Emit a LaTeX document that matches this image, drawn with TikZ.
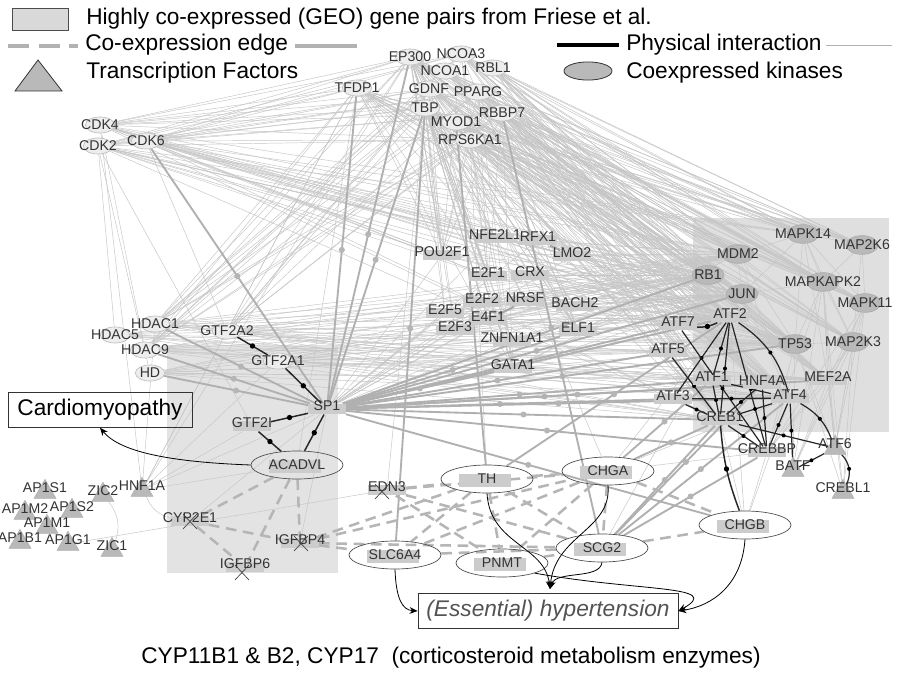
\documentclass[tikz,border=0pt]{standalone}
\usepackage{fontspec}
\setmainfont{Liberation Sans}
\usetikzlibrary{shapes.geometric,arrows.meta}
\pgfdeclarelayer{boxes}
\pgfdeclarelayer{edges}
\pgfsetlayers{boxes,edges,main}
\newcommand\nfont{\fontsize{10.6}{11}\selectfont}
\newcommand\bfont{\fontsize{17}{20}\selectfont}
\tikzset{
 lab/.style={font=\nfont, text=black!80, inner sep=0pt},
 lelllab/.style={lab},
 kinlab/.style={lab},
 rnodelab/.style={lab, yshift=2.5pt},
 tnodelab/.style={lab, yshift=3pt},
 lell/.style={ellipse, fill=gray!14, draw=gray!50, line width=0.5pt, minimum width=22pt, minimum height=12pt, inner sep=0pt},
 kin/.style={ellipse, fill=gray!55, draw=gray!65, line width=0.5pt, minimum width=24pt, minimum height=14pt, inner sep=0pt},
 rnode/.style={rectangle, fill=gray!40, minimum width=28pt, minimum height=8pt, inner sep=0pt},
 tnode/.style={regular polygon, regular polygon sides=3, fill=gray!55, draw=gray!62, minimum size=19pt, inner sep=0pt},
 hell/.style={ellipse, draw=black!70, line width=0.5pt, minimum width=69pt, minimum height=21pt, inner sep=0pt, font=\nfont, text=black!80,
   path picture={\fill[gray!40] ([xshift=-21pt,yshift=-6pt]path picture bounding box.center) rectangle ([xshift=18pt,yshift=4pt]path picture bounding box.center);}},
 thn/.style={draw=gray!45, line width=0.35pt},
 thk/.style={draw=gray!62, line width=1.4pt},
 phy/.style={draw=black!85, line width=1.1pt},
 cox/.style={draw=gray!58, line width=1.9pt, dash pattern=on 8pt off 5pt},
 dot/.style={circle, fill=gray!58, inner sep=0pt, minimum size=4.5pt},
 bdot/.style={circle, fill=black, inner sep=0pt, minimum size=4pt},
 arr/.style={draw=black, line width=0.6pt, -{Stealth[length=6pt,width=5pt]}},
 btxt/.style={font=\bfont, inner sep=0pt, anchor=west},
 xmk/.style={draw=black!75, line width=0.5pt},
}
\newcommand\mkn[4]{\node[#1, label={[#1lab]center:#4}] (#2) at (#3) {};}
\begin{document}
\begin{tikzpicture}[x=0.75pt,y=-0.75pt]
\useasboundingbox (0,0) rectangle (897,674);
\begin{pgfonlayer}{boxes}
\fill[white] (0,0) rectangle (897,674);
\fill[gray!25] (693,218) rectangle (889,432);
\fill[gray!22] (167,345) rectangle (338,573);
\end{pgfonlayer}

% legend
\filldraw[fill=gray!30, draw=gray!60!black, line width=0.6pt] (12,8) rectangle (68,30);
\node[btxt] (lg1) at (86,19) {Highly co-expressed (GEO) gene pairs from Friese et al.};
\draw[gray!60, line width=2.6pt, dash pattern=on 16pt off 7pt] (8,46) -- (78,46);
\node[btxt] (lg2) at (85,45) {Co-expression edge};
\draw[gray!60, line width=2.6pt] (295,46) -- (357,46);
\filldraw[fill=gray!55, draw=gray!40!black, line width=0.6pt] (15,91) -- (62,91) -- (38,60) -- cycle;
\node[btxt] (lg3) at (86,73) {Transcription Factors};
\draw[black, line width=2.4pt] (557,45) -- (619,45);
\node[btxt] (lg4) at (626,45) {Physical interaction};
\draw[gray!60, line width=0.5pt] (826,45) -- (892,45);
\filldraw[fill=gray!55, draw=gray!40!black, line width=0.6pt] (588,71) ellipse [x radius=18pt, y radius=6.8pt];
\node[btxt] (lg5) at (626,73) {Coexpressed kinases};

% top nodes
\mkn{lell}{EP300}{410,57}{EP300}
\mkn{lell}{NCOA3}{461,54}{NCOA3}
\mkn{lell}{NCOA1}{445,71}{NCOA1}
\mkn{lell}{RBL1}{493,68}{RBL1}
\mkn{lell}{TFDP1}{357,88}{TFDP1}
\mkn{lell}{GDNF}{429,89}{GDNF}
\mkn{lell}{PPARG}{478,92}{PPARG}
\mkn{lell}{TBP}{425,108}{TBP}
\mkn{lell}{MYOD1}{456,122}{MYOD1}
\mkn{lell}{RBBP7}{502,113}{RBBP7}
\mkn{lell}{RPS6KA1}{470,140}{RPS6KA1}
\mkn{lell}{CDK4}{100,125}{CDK4}
\mkn{lell}{CDK2}{98,146}{CDK2}
\mkn{lell}{CDK6}{146,141}{CDK6}
\mkn{lell}{HDAC1}{155,324}{HDAC1}
\mkn{lell}{HDAC5}{115,335}{HDAC5}
\mkn{lell}{HDAC9}{145,350}{HDAC9}
\mkn{lell}{HD}{150,373}{HD}
\mkn{lell}{GTF2A2}{227,331}{GTF2A2}
\mkn{lell}{GTF2A1}{278,361}{GTF2A1}
% middle
\mkn{rnode}{NFE2L1}{495,238}{NFE2L1}
\mkn{rnode}{RFX1}{538,240}{RFX1}
\mkn{rnode}{POU2F1}{442,255}{POU2F1}
\mkn{rnode}{LMO2}{572,256}{LMO2}
\mkn{rnode}{E2F1}{488,276}{E2F1}
\mkn{rnode}{CRX}{530,275}{CRX}
\mkn{rnode}{E2F2}{482,302}{E2F2}
\mkn{rnode}{NRSF}{525,301}{NRSF}
\mkn{rnode}{BACH2}{575,306}{BACH2}
\mkn{rnode}{E2F5}{445,313}{E2F5}
\mkn{rnode}{E4F1}{488,320}{E4F1}
\mkn{rnode}{E2F3}{455,330}{E2F3}
\mkn{rnode}{ELF1}{578,331}{ELF1}
\mkn{rnode}{ZNFN1A1}{512,341}{ZNFN1A1}
\mkn{rnode}{GATA1}{513,368}{GATA1}
\mkn{rnode}{SP1}{327,409}{SP1}
\mkn{rnode}{GTF2I}{252,426}{GTF2I}
% kinases
\mkn{kin}{MAPK14}{803,234}{MAPK14}
\mkn{kin}{MAP2K6}{862,245}{MAP2K6}
\mkn{kin}{MDM2}{738,254}{MDM2}
\mkn{kin}{RB1}{708,275}{RB1}
\mkn{kin}{MAPKAPK2}{823,282}{MAPKAPK2}
\mkn{kin}{JUN}{742,294}{JUN}
\mkn{kin}{MAPK11}{865,303}{MAPK11}
\mkn{kin}{TP53}{795,344}{TP53}
\mkn{kin}{MAP2K3}{853,342}{MAP2K3}
% right TFs
\mkn{rnode}{ATF2}{730,317}{ATF2}
\mkn{rnode}{ATF7}{678,325}{ATF7}
\mkn{rnode}{ATF5}{668,352}{ATF5}
\mkn{rnode}{ATF1}{712,380}{ATF1}
\mkn{rnode}{HNF4A}{762,384}{HNF4A}
\mkn{rnode}{MEF2A}{828,380}{MEF2A}
\mkn{rnode}{ATF3}{673,399}{ATF3}
\mkn{rnode}{ATF4}{790,398}{ATF4}
\mkn{rnode}{CREB1}{720,420}{CREB1}
\mkn{rnode}{CREBBP}{767,452}{CREBBP}
\mkn{tnode}{BATF}{793,470}{BATF}
\mkn{tnode}{ATF6}{835,448}{ATF6}
\mkn{tnode}{CREBL1}{843,492}{CREBL1}
% bottom left
\mkn{tnode}{AP1S1}{45,492}{AP1S1}
\mkn{tnode}{ZIC2}{103,495}{ZIC2}
\mkn{tnode}{HNF1A}{142,490}{HNF1A}
\mkn{tnode}{AP1M2}{25,513}{AP1M2}
\mkn{tnode}{AP1S2}{72,511}{AP1S2}
\mkn{tnode}{AP1M1}{47,527}{AP1M1}
\mkn{tnode}{AP1B1}{20,542}{AP1B1}
\mkn{tnode}{AP1G1}{68,544}{AP1G1}
\mkn{tnode}{ZIC1}{112,550}{ZIC1}
\mkn{rnode}{CYP2E1}{190,521}{CYP2E1}
\mkn{rnode}{IGFBP4}{300,543}{IGFBP4}
\mkn{rnode}{IGFBP6}{245,567}{IGFBP6}
\mkn{rnode}{EDN3}{387,490}{EDN3}
% highlighted genes
\node[hell] (ACADVL) at (297,465) {ACADVL};
\node[hell] (TH) at (487,479) {TH\hspace{12pt}};
\node[hell] (CHGA) at (608,471) {CHGA};
\node[hell] (CHGB) at (745,525) {CHGB};
\node[hell] (SLC6A4) at (395,555) {SLC6A4};
\node[hell] (PNMT) at (502,563) {PNMT};
\node[hell] (SCG2) at (602,548) {SCG2};
% X marks
\draw[xmk] (183,514) -- (197,529) (183,529) -- (197,514);
\draw[xmk] (294,536) -- (308,551) (294,551) -- (308,536);
\draw[xmk] (235,565) -- (249,580) (235,580) -- (249,565);
\draw[xmk] (375,484) -- (389,499) (375,499) -- (389,484);

% outcome boxes
\node[draw=black!80, line width=0.6pt, minimum width=138pt, minimum height=26pt, inner sep=0pt, font=\bfont] (CM) at (100,410) {Cardiomyopathy};
\node[draw=black!80, line width=0.6pt, minimum width=195pt, minimum height=26pt, inner sep=0pt, font=\bfont\itshape, text=gray!65!black] (HYP) at (548,611) {(Essential) hypertension};
\coordinate (hp) at (550,589);
\node[font=\bfont, inner sep=0pt] (CAP) at (451,658) {CYP11B1 \& B2, CYP17\ \ (corticosteroid metabolism enzymes)};

\begin{pgfonlayer}{edges}
% thin grey edges
\foreach \a in {EP300,NCOA3,NCOA1,RBL1,TFDP1,GDNF,PPARG,TBP,MYOD1,RBBP7,RPS6KA1}{
 \foreach \b in {MAPK14,MAP2K6,MDM2,RB1,MAPKAPK2,JUN,MAPK11,TP53,MAP2K3,ATF2,ATF4,CREB1,HNF4A,ATF1,MEF2A}{\draw[thn] (\a) -- (\b);}}
\foreach \a in {EP300,NCOA3,TFDP1,GDNF,TBP,PPARG,RBBP7,RPS6KA1}{
 \foreach \b in {CDK4,CDK2,CDK6,HDAC1,HDAC9,GTF2A2,POU2F1,E2F1,GATA1,ELF1}{\draw[thn] (\a) -- (\b);}}
\foreach \a in {CDK4,CDK2,CDK6}{
 \foreach \b in {MDM2,RB1,JUN,ATF2,MAPK14,TP53,CREB1,E2F1,POU2F1,LMO2,NFE2L1}{\draw[thn] (\a) -- (\b);}}
\foreach \a/\b in {CDK2/HDAC5,CDK2/HD,CDK4/HNF1A,CDK2/GTF2I,CDK4/HDAC9,CDK6/GTF2A2}{\draw[thn] (\a) -- (\b);}
\foreach \a in {HDAC1,HDAC5,HDAC9,HD,GTF2A2,GTF2A1}{
 \foreach \b in {RB1,JUN,ATF2,TP53,CREB1,ATF4,MDM2,ATF5,ATF1,MEF2A}{\draw[thn] (\a) -- (\b);}}
\foreach \a in {NFE2L1,RFX1,POU2F1,LMO2,E2F1,CRX,E2F2,NRSF,BACH2,E2F5,E4F1,E2F3,ELF1,ZNFN1A1,GATA1}{
 \foreach \b in {RB1,JUN,MDM2,ATF2,TP53,SP1,EP300,TBP}{\draw[thn] (\a) -- (\b);}}
\foreach \b in {SP1,GTF2A1,GTF2I,TFDP1,HDAC1,EP300,GTF2A2,ACADVL}{\draw[thn] (HNF1A) -- (\b);}
\foreach \a/\b in {MAPK14/MAP2K6,MAPK14/MAPKAPK2,MAPK14/MDM2,MAPK14/JUN,MAPK14/TP53,MAPK14/MAPK11,MAPK14/MAP2K3,MAPK14/MEF2A,MAP2K6/MAPK11,MAP2K6/MAPKAPK2,MAP2K6/MAP2K3,MAPKAPK2/MAPK11,MAPKAPK2/TP53,MAPKAPK2/MAP2K3,MAPKAPK2/MEF2A,MAPKAPK2/JUN,MAPK11/MAP2K3,MAPK11/MEF2A,MAP2K3/MEF2A,MAP2K3/TP53,MDM2/TP53,MDM2/JUN,RB1/JUN,RB1/TP53,JUN/TP53,MDM2/ATF4,JUN/ATF4,RB1/MEF2A,MEF2A/ATF6,MAP2K3/ATF6}{\draw[thn] (\a) -- (\b);}
\foreach \a in {CREBBP,BATF,ATF6,CREBL1}{
 \foreach \b in {TP53,MEF2A,MAP2K3,MAPK11,MAPKAPK2}{\draw[thn] (\a) -- (\b);}}
\foreach \a in {CREB1,ATF4,CREBBP,ATF2}{
 \foreach \b in {CHGA,SCG2,CHGB}{\draw[thn] (\a) -- (\b);}}
\foreach \a/\b in {IGFBP4/SP1,EDN3/TBP,TH/RPS6KA1,AP1G1/EDN3,CHGA/MYOD1,ACADVL/TFDP1,CYP2E1/SP1}{\draw[thn] (\a) -- (\b);}
\draw[thn] (ZIC2) to[bend left=30] (ZIC1);
\draw[thn] (HNF1A) to[bend right=25] (CYP2E1);
% thick grey edges
\foreach \b in {CDK6,TFDP1,EP300,TBP,HDAC1,HDAC9,HD,ATF2,JUN,TP53,ATF7,ATF5,ATF1,ATF3,HNF4A,ATF4,CREB1,CREBBP,CHGB,ELF1,GATA1,MEF2A,RB1}{\draw[thk] (SP1) -- node[dot]{} (\b);}
\foreach \a/\b in {RBBP7/SCG2,ATF2/TH,CREB1/CHGA,ATF1/CHGA,CREB1/SCG2,ATF4/SCG2,CREBBP/SCG2,HNF4A/SCG2,TBP/SLC6A4,MYOD1/TH}{\draw[thk] (\a) -- node[dot]{} (\b);}
\draw[thk, draw=gray!70] (RFX1) -- (LMO2);
\draw[thk, draw=gray!70] (NRSF) -- (E4F1);
% co-expression edges
\foreach \a/\b in {ACADVL/CYP2E1,ACADVL/IGFBP6,ACADVL/IGFBP4,CYP2E1/IGFBP4,CYP2E1/IGFBP6,IGFBP4/TH,IGFBP4/CHGA,IGFBP4/SCG2,IGFBP4/SLC6A4,EDN3/TH,EDN3/SCG2,EDN3/PNMT,TH/CHGA,TH/SCG2,TH/SLC6A4,TH/PNMT,CHGA/SCG2,CHGA/SLC6A4,CHGA/PNMT,SCG2/CHGB,SCG2/SLC6A4,PNMT/SCG2,CHGA/CHGB,EDN3/CHGA}{\draw[cox] (\a) -- (\b);}
% physical interactions
\foreach \a/\b in {GTF2A2/GTF2A1,GTF2A1/SP1,GTF2I/SP1,GTF2I/ACADVL,SP1/ACADVL}{\draw[phy] (\a) -- node[bdot]{} (\b);}
\draw[phy] (ATF7) to[bend right=15] node[bdot]{} (ATF2);
\foreach \a/\b in {ATF2/CREB1,ATF2/ATF1,ATF2/ATF3,ATF2/CREBBP,ATF7/CREBBP,ATF5/CREB1,ATF1/CREB1,ATF1/ATF4,ATF3/ATF4,ATF3/CREB1,HNF4A/CREB1,HNF4A/CREBBP,ATF4/CREB1,ATF4/CREBBP,ATF4/BATF,CREB1/CREBBP,CREB1/ATF6,ATF6/BATF}{\draw[phy, line width=0.9pt] (\a) -- node[bdot, minimum size=3pt]{} (\b);}
\draw[phy, line width=0.9pt] (ATF2) to[bend left=20] node[bdot, minimum size=3pt]{} (ATF4);
\draw[phy, line width=0.9pt] (ATF4) to[bend left=20] node[bdot, minimum size=3pt]{} (ATF6);
\draw[phy, line width=0.9pt] (ATF6) to[bend left=35] node[bdot, minimum size=3pt]{} (CREBL1);
\draw[phy] (CREB1) to[bend right=8] node[bdot]{} (CHGB);
\end{pgfonlayer}

% disease arrows
\draw[arr] (ACADVL.west) .. controls (170,462) and (120,452) .. (CM.south);
\draw[arr] (TH.south) .. controls (490,545) and (545,545) .. (hp);
\draw[arr] (CHGA.south) .. controls (612,530) and (555,535) .. (hp);
\draw[arr] (SCG2.south) .. controls (600,580) and (556,570) .. (hp);
\draw[arr] (PNMT.south east) .. controls (640,592) and (725,585) .. (HYP.east);
\draw[arr] (CHGB.south) .. controls (742,585) and (712,606) .. (HYP.east);
\draw[arr] (SLC6A4.south) .. controls (396,598) and (402,610) .. (HYP.west);
\end{tikzpicture}
\end{document}
